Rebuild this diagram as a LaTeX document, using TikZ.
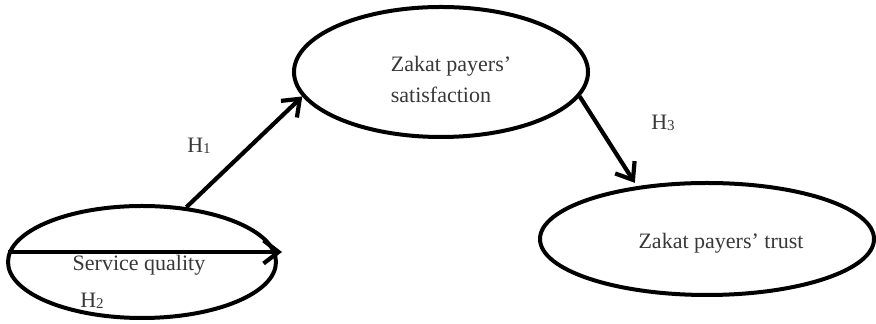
\documentclass[tikz,border=0pt]{standalone}
\usepackage{fontspec}
\setmainfont{Liberation Serif}
\usetikzlibrary{shapes.geometric,arrows.meta}
\newcommand{\hsub}[1]{H{\fontsize{7.5}{7.5}\selectfont\raisebox{-0.6pt}{#1}}}
\begin{document}
\begin{tikzpicture}[x=0.5pt,y=-0.5pt,
  construct/.style={ellipse,draw=black,line width=2pt,inner sep=0pt},
  txt/.style={font=\fontsize{11}{15.5}\selectfont,text=black!78},
  path/.style={line width=2.1pt,-{Straight Barb[length=7.5pt,width=11.5pt,line width=2.1pt]}}]
\useasboundingbox (0,0) rectangle (876,324);
\node[construct,minimum width=268pt*0.5,minimum height=112pt*0.5] (sq) at (142,262) {};
\node[construct,minimum width=294pt*0.5,minimum height=130pt*0.5] (sat) at (441,72) {};
\node[construct,minimum width=334pt*0.5,minimum height=112pt*0.5] (tr) at (707,239) {};
\node[txt] (sqt) at (139,265) {Service quality};
\node[txt,align=left] (satt) at (451,79) {Zakat payers’\\satisfaction};
\node[txt] (trt) at (721,243) {Zakat payers’ trust};
\draw[path] (sq.51) -- (sat.190);
\draw[path,shorten >=2pt] (sat.350) -- (tr.143);
\draw[path] ([yshift=5pt,xshift=1pt]sq.west) -- ([yshift=5pt,xshift=2pt]sq.east);
\node[txt] (h1) at (199,146) {\hsub{1}};
\node[txt] (h2) at (92,301) {\hsub{2}};
\node[txt] (h3) at (663,123) {\hsub{3}};
\end{tikzpicture}
\end{document}
